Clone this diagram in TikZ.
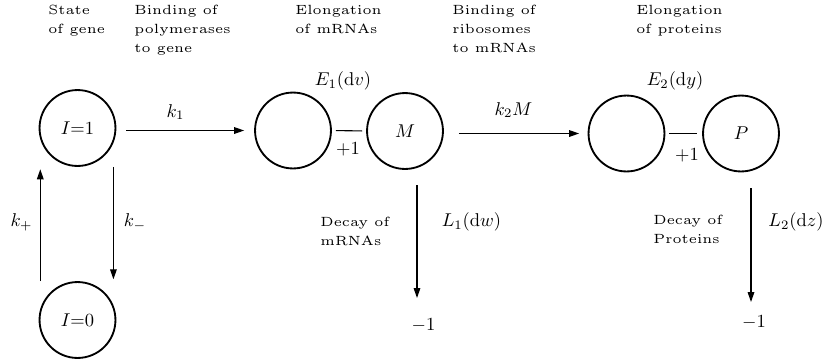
\documentclass[tikz,border=0pt]{standalone}
\usetikzlibrary{arrows.meta}
\font\capfont=cmr5 at 7.2pt
\begin{document}
\begin{tikzpicture}[x=0.54pt,y=-0.54pt,
  circ/.style={draw,circle,line width=1pt,minimum size=41pt,inner sep=0pt},
  arr/.style={line width=0.6pt,-{Triangle[length=5.4pt,width=3.6pt]}},
  link/.style={line width=0.6pt},
  captxt/.style={font={\capfont\baselineskip=10.3pt\relax},align=left,inner sep=0pt,anchor=north west},
  lab/.style={inner sep=0pt}]
\useasboundingbox (0,0) rectangle (835,362);

% captions
\node[captxt] (c1) at (48,5)  {State\\of gene};
\node[captxt] (c2) at (134,5) {Binding of\\polymerases\\to gene};
\node[captxt] (c3) at (295,5) {Elongation\\of mRNAs};
\node[captxt] (c4) at (452,5) {Binding of\\ribosomes\\to mRNAs};
\node[captxt] (c5) at (636,5) {Elongation\\of proteins};

% states
\node[circ] (I1) at (77.5,128)   {$I{=}1$};
\node[circ] (I0) at (77.5,320)   {$I{=}0$};
\node[circ] (A1) at (293,130.5)  {};
\node[circ] (M)  at (405,131)    {$M$};
\node[circ] (A2) at (626.5,133.5){};
\node[circ] (P)  at (741,133.5)  {$P$};

% labels
\node[lab] (lkp) at (21.5,222) {$k_+$};
\node[lab] (lkm) at (135,222)  {$k_-$};
\node[lab] (lk1) at (175.5,112) {$k_1$};
\node[lab] (lk2) at (513.5,110) {$k_2M$};
\node[lab] (le1) at (343,81) {$E_1(\mathrm{d}v)$};
\node[lab] (le2) at (675,81) {$E_2(\mathrm{d}y)$};
\node[lab] (p1) at (348,149) {$+1$};
\node[lab] (p2) at (687,155) {$+1$};
\node[lab] (ll1) at (471.5,222) {$L_1(\mathrm{d}w)$};
\node[lab] (ll2) at (796,222) {$L_2(\mathrm{d}z)$};
\node[lab] (m1) at (423.5,325) {$-1$};
\node[lab] (m2) at (754,322) {$-1$};
\node[captxt] (d1) at (320,217) {Decay of\\mRNAs};
\node[captxt] (d2) at (653,215) {Decay of\\Proteins};

% connectors
\draw[arr] ([xshift=0.9pt]I0.west |- I0.north) -- ([xshift=0.9pt,yshift=-1.3pt]I1.west |- I1.south);
\draw[arr] ([xshift=-1.6pt]I1.east |- I1.south) -- ([xshift=-1.6pt,yshift=1pt]I1.east |- I0.north);
\draw[arr,shorten <=5.4pt,shorten >=5.4pt] (I1.east |- A1) -- (A1.west);
\draw[link,shorten <=2.2pt,shorten >=2.2pt] (A1.east) -- (M.west);
\draw[arr,shorten <=8.1pt,shorten >=4.6pt] (M.east |- A2) -- (A2.west);
\draw[link,shorten <=2pt,shorten >=3pt] (A2.east) -- (P.west);

\coordinate (l1s) at (417,185);
\coordinate (l1e) at (417,298);
\coordinate (l2s) at (751,188);
\coordinate (l2e) at (751,302);
\draw[arr] (l1s) -- (l1e);
\draw[arr] (l2s) -- (l2e);
\end{tikzpicture}
\end{document}
